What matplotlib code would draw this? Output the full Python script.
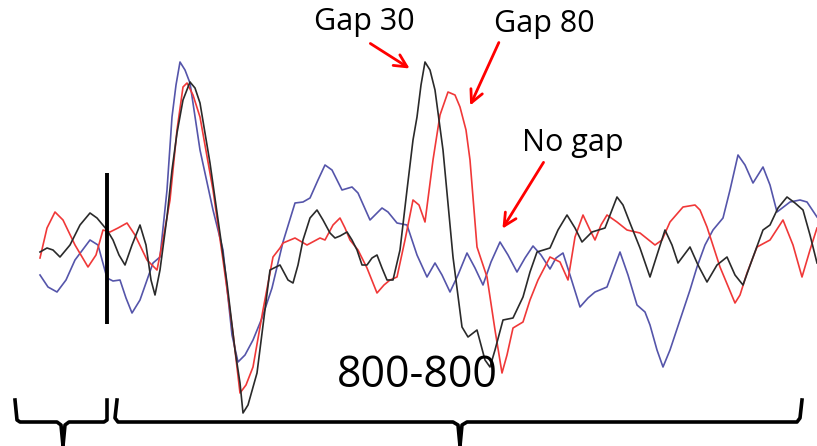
import matplotlib.pyplot as plt

# waveform traces, sampled along the horizontal (x) with amplitude downward (y)
blue_x = [40, 48, 57, 66, 75, 90, 98, 107, 113, 120, 126, 132, 140, 153, 160, 167, 172, 176, 180, 185,
          190, 200, 213, 223, 232, 238, 245, 253, 262, 272, 283, 295, 303, 310, 318, 325, 332, 342, 352,
          358, 370, 382, 388, 397, 407, 417, 427, 435, 442, 450, 458, 467, 475, 483, 491, 500, 508, 517,
          525, 533, 541, 550, 556, 563, 570, 580, 588, 595, 607, 614, 620, 628, 637, 645, 650, 657, 663,
          670, 680, 690, 697, 705, 713, 723, 730, 738, 745, 753, 763, 770, 777, 790, 800, 807, 817]
blue_y = [275, 287, 292, 280, 260, 240, 245, 278, 281, 280, 298, 313, 300, 263, 257, 190, 117, 85, 62, 70,
          83, 150, 210, 250, 335, 362, 355, 340, 318, 288, 242, 203, 202, 198, 180, 165, 170, 190, 187,
          193, 220, 208, 212, 223, 225, 255, 277, 263, 275, 292, 275, 253, 268, 285, 262, 242, 255, 272,
          258, 246, 255, 269, 258, 253, 275, 307, 298, 292, 287, 268, 252, 275, 305, 312, 325, 350, 367,
          350, 320, 290, 267, 245, 230, 218, 190, 155, 165, 183, 167, 185, 212, 202, 200, 202, 217]

red_x = [40, 47, 55, 63, 75, 88, 96, 103, 110, 118, 127, 135, 147, 157, 163, 170, 177, 183, 187, 193,
         200, 213, 223, 233, 240, 246, 253, 263, 273, 280, 283, 295, 307, 320, 325, 333, 340, 345, 350,
         358, 367, 377, 384, 390, 397, 405, 413, 419, 425, 433, 440, 448, 455, 460, 466, 470, 477, 487,
         495, 502, 507, 513, 523, 530, 538, 550, 560, 568, 575, 583, 590, 595, 601, 607, 617, 627, 640,
         655, 662, 670, 683, 695, 700, 707, 720, 735, 740, 747, 757, 770, 783, 793, 802, 810, 817]
red_y = [258, 228, 212, 220, 245, 267, 255, 230, 232, 228, 223, 235, 260, 270, 240, 200, 130, 87, 83, 95,
         117, 190, 260, 333, 393, 385, 367, 310, 257, 248, 243, 238, 245, 238, 240, 225, 218, 228, 240,
         250, 268, 293, 285, 280, 277, 240, 200, 205, 222, 160, 115, 92, 95, 107, 130, 160, 247, 277,
         330, 373, 355, 328, 322, 300, 280, 257, 262, 280, 237, 215, 230, 240, 225, 215, 222, 230, 233,
         245, 240, 222, 207, 205, 210, 227, 267, 303, 295, 273, 247, 240, 220, 245, 277, 250, 228]

black_x = [40, 47, 53, 60, 70, 80, 90, 97, 107, 113, 119, 125, 132, 140, 146, 151, 155, 160, 167, 172,
           177, 183, 190, 195, 200, 210, 227, 235, 240, 243, 248, 257, 270, 280, 288, 293, 298, 303, 310,
           317, 323, 330, 335, 340, 347, 352, 357, 362, 367, 372, 377, 382, 387, 393, 400, 407, 413, 417,
           421, 425, 430, 435, 443, 453, 462, 468, 477, 485, 490, 495, 503, 513, 523, 530, 537, 550, 558,
           567, 575, 582, 592, 605, 617, 623, 630, 640, 650, 657, 665, 672, 678, 690, 698, 707, 717, 727,
           735, 743, 752, 763, 770, 778, 787, 795, 803, 810, 817]
black_y = [252, 248, 250, 257, 245, 225, 213, 218, 230, 240, 255, 265, 245, 225, 245, 280, 295, 270, 217, 170,
           133, 100, 82, 88, 103, 163, 283, 350, 383, 413, 405, 373, 270, 265, 280, 283, 265, 240, 218,
           210, 220, 233, 238, 236, 232, 240, 250, 265, 265, 258, 255, 268, 280, 280, 250, 190, 140, 117,
           85, 62, 70, 90, 150, 257, 327, 337, 330, 360, 367, 350, 320, 318, 297, 272, 252, 248, 230,
           215, 228, 242, 232, 228, 197, 205, 223, 248, 277, 255, 230, 245, 263, 247, 265, 282, 265, 257,
           275, 285, 260, 230, 225, 208, 197, 203, 210, 235, 263]

labels = ["Gap 30", "Gap 80", "No gap"]
label_pos = [(364, 22), (544, 24), (573, 143)]
arrow_tips = [(412, 70), (469, 108), (501, 231)]
arrow_tails = [(368, 42), (500, 40), (545, 160)]

fig = plt.figure(figsize=(8.17, 4.46), dpi=100)
ax = fig.add_axes([0, 0, 1, 1])
ax.set_xlim(0, 817)
ax.set_ylim(446, 0)
ax.axis('off')

ax.plot(blue_x, blue_y, color='#5555aa', lw=1.2, solid_joinstyle='round')
ax.plot(red_x, red_y, color='#f03838', lw=1.2, solid_joinstyle='round')
ax.plot(black_x, black_y, color='#2a2a2a', lw=1.2, solid_joinstyle='round')

# stimulus onset marker
ax.plot([107, 107], [173, 324], color='black', lw=2.8, solid_capstyle='butt')

# braces under the traces
ax.plot([15, 17, 20, 57, 61, 63], [400, 420, 422, 422, 425, 446], color='black', lw=2.6)
ax.plot([63, 65, 69, 104, 107, 107], [446, 425, 422, 422, 420, 400], color='black', lw=2.6)
ax.plot([117, 115, 118, 453, 458, 460], [400, 418, 422, 422, 425, 446], color='black', lw=2.6)
ax.plot([460, 462, 467, 797, 800, 802], [446, 425, 422, 422, 418, 400], color='black', lw=2.6)

for txt, (tx, ty), tip, tail in zip(labels, label_pos, arrow_tips, arrow_tails):
    ax.text(tx, ty, txt, fontsize=22, family='Open Sans', ha='center', va='center')
    ax.annotate('', xy=tip, xytext=tail,
                arrowprops=dict(arrowstyle='->, head_length=0.9, head_width=0.45',
                                color='red', lw=2))

ax.text(417, 376, "800-800", fontsize=31, family='Open Sans', ha='center', va='center')

plt.savefig('out.png', dpi=100)
